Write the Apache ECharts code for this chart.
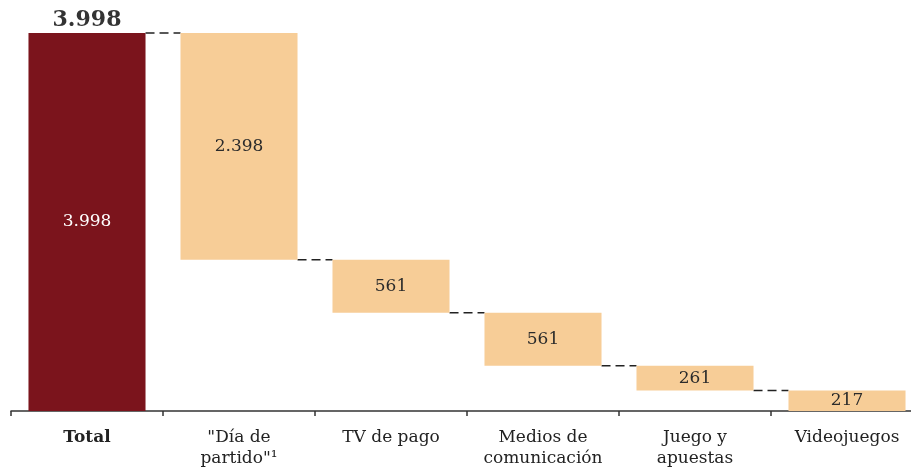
<!DOCTYPE html>
<html>
<head>
<meta charset="utf-8">
<script src="https://cdn.jsdelivr.net/npm/echarts@6/dist/echarts.min.js"></script>
<style>
  html, body { margin: 0; padding: 0; background: #ffffff; overflow: hidden; }
  /* el eje continúa más allá del borde derecho, como en el original */
  #chart { width: 925px; height: 471px; }
</style>
</head>
<body>
<div id="chart"></div>
<script>
// categorías y valores (miles)
const categories = ['Total', '"Día de\npartido"¹', 'TV de pago', 'Medios de\ncomunicación', 'Juego y\napuestas', 'Videojuegos']
const values = [3998, 2398, 561, 561, 261, 217]

// base invisible de cada barra (cascada descendente)
const bases = []
let rest = values[0]
values.forEach((v, i) => {
  if (i === 0) {
    bases.push(0)
  } else {
    rest -= v
    bases.push(rest)
  }
})
const tops = values.map((v, i) => bases[i] + v)

const fmt = n => String(n).replace(/\B(?=(\d{3})+(?!\d))/g, '.')
const serif = '"DejaVu Serif", "Liberation Serif", serif'
const barPct = 0.77

const chart = echarts.init(document.getElementById('chart'))

const option = {
  animation: false,
  grid: { left: 11, top: 33, width: 912, bottom: 60 },
  xAxis: {
    type: 'category',
    data: categories,
    boundaryGap: true,
    axisLine: { lineStyle: { color: '#333', width: 1.5 } },
    axisTick: { show: true, length: 5, lineStyle: { color: '#333', width: 1.5 } },
    axisLabel: {
      interval: 0,
      margin: 16,
      fontFamily: serif,
      fontSize: 17,
      lineHeight: 21,
      color: '#222',
      formatter: (v, i) => i === 0 ? '{b|' + v + '}' : v,
      rich: { b: { fontWeight: 'bold', fontFamily: serif, fontSize: 17, color: '#222' } }
    }
  },
  yAxis: { type: 'value', min: 0, max: 3998, show: false, splitLine: { show: false } },
  series: [
    {
      type: 'bar',
      stack: 'w',
      barWidth: (barPct * 100) + '%',
      itemStyle: { color: 'transparent' },
      data: bases
    },
    {
      type: 'bar',
      stack: 'w',
      barWidth: (barPct * 100) + '%',
      data: values.map((v, i) => ({
        value: v,
        itemStyle: { color: i === 0 ? '#7b141c' : '#f7cd97' },
        label: { color: i === 0 ? '#ffffff' : '#2b2b2b' }
      })),
      label: {
        show: true,
        position: 'inside',
        fontFamily: serif,
        fontSize: 17,
        formatter: p => fmt(p.value)
      }
    },
    {
      // etiqueta superior del total
      type: 'scatter',
      symbolSize: 0,
      data: [[0, values[0]]],
      label: {
        show: true,
        position: 'top',
        distance: 2,
        fontFamily: serif,
        fontWeight: 'bold',
        fontSize: 22,
        color: '#000',
        formatter: fmt(values[0])
      }
    },
    {
      // conectores discontinuos
      type: 'custom',
      data: tops.slice(1).map((t, i) => [i, t]),
      renderItem: (params, api) => {
        const i = api.value(0)
        const lvl = api.value(1)
        const bw = api.size([1, 0])[0] * barPct
        const p1 = api.coord([i, lvl])
        const p2 = api.coord([i + 1, lvl])
        return {
          type: 'line',
          shape: { x1: p1[0] + bw / 2, y1: p1[1], x2: p2[0] - bw / 2, y2: p1[1] },
          style: { stroke: '#222', lineWidth: 1.5, lineDash: [9, 5] }
        }
      },
      encode: { x: 0, y: 1 }
    }
  ]
}
chart.setOption(option)
</script>
</body>
</html>
